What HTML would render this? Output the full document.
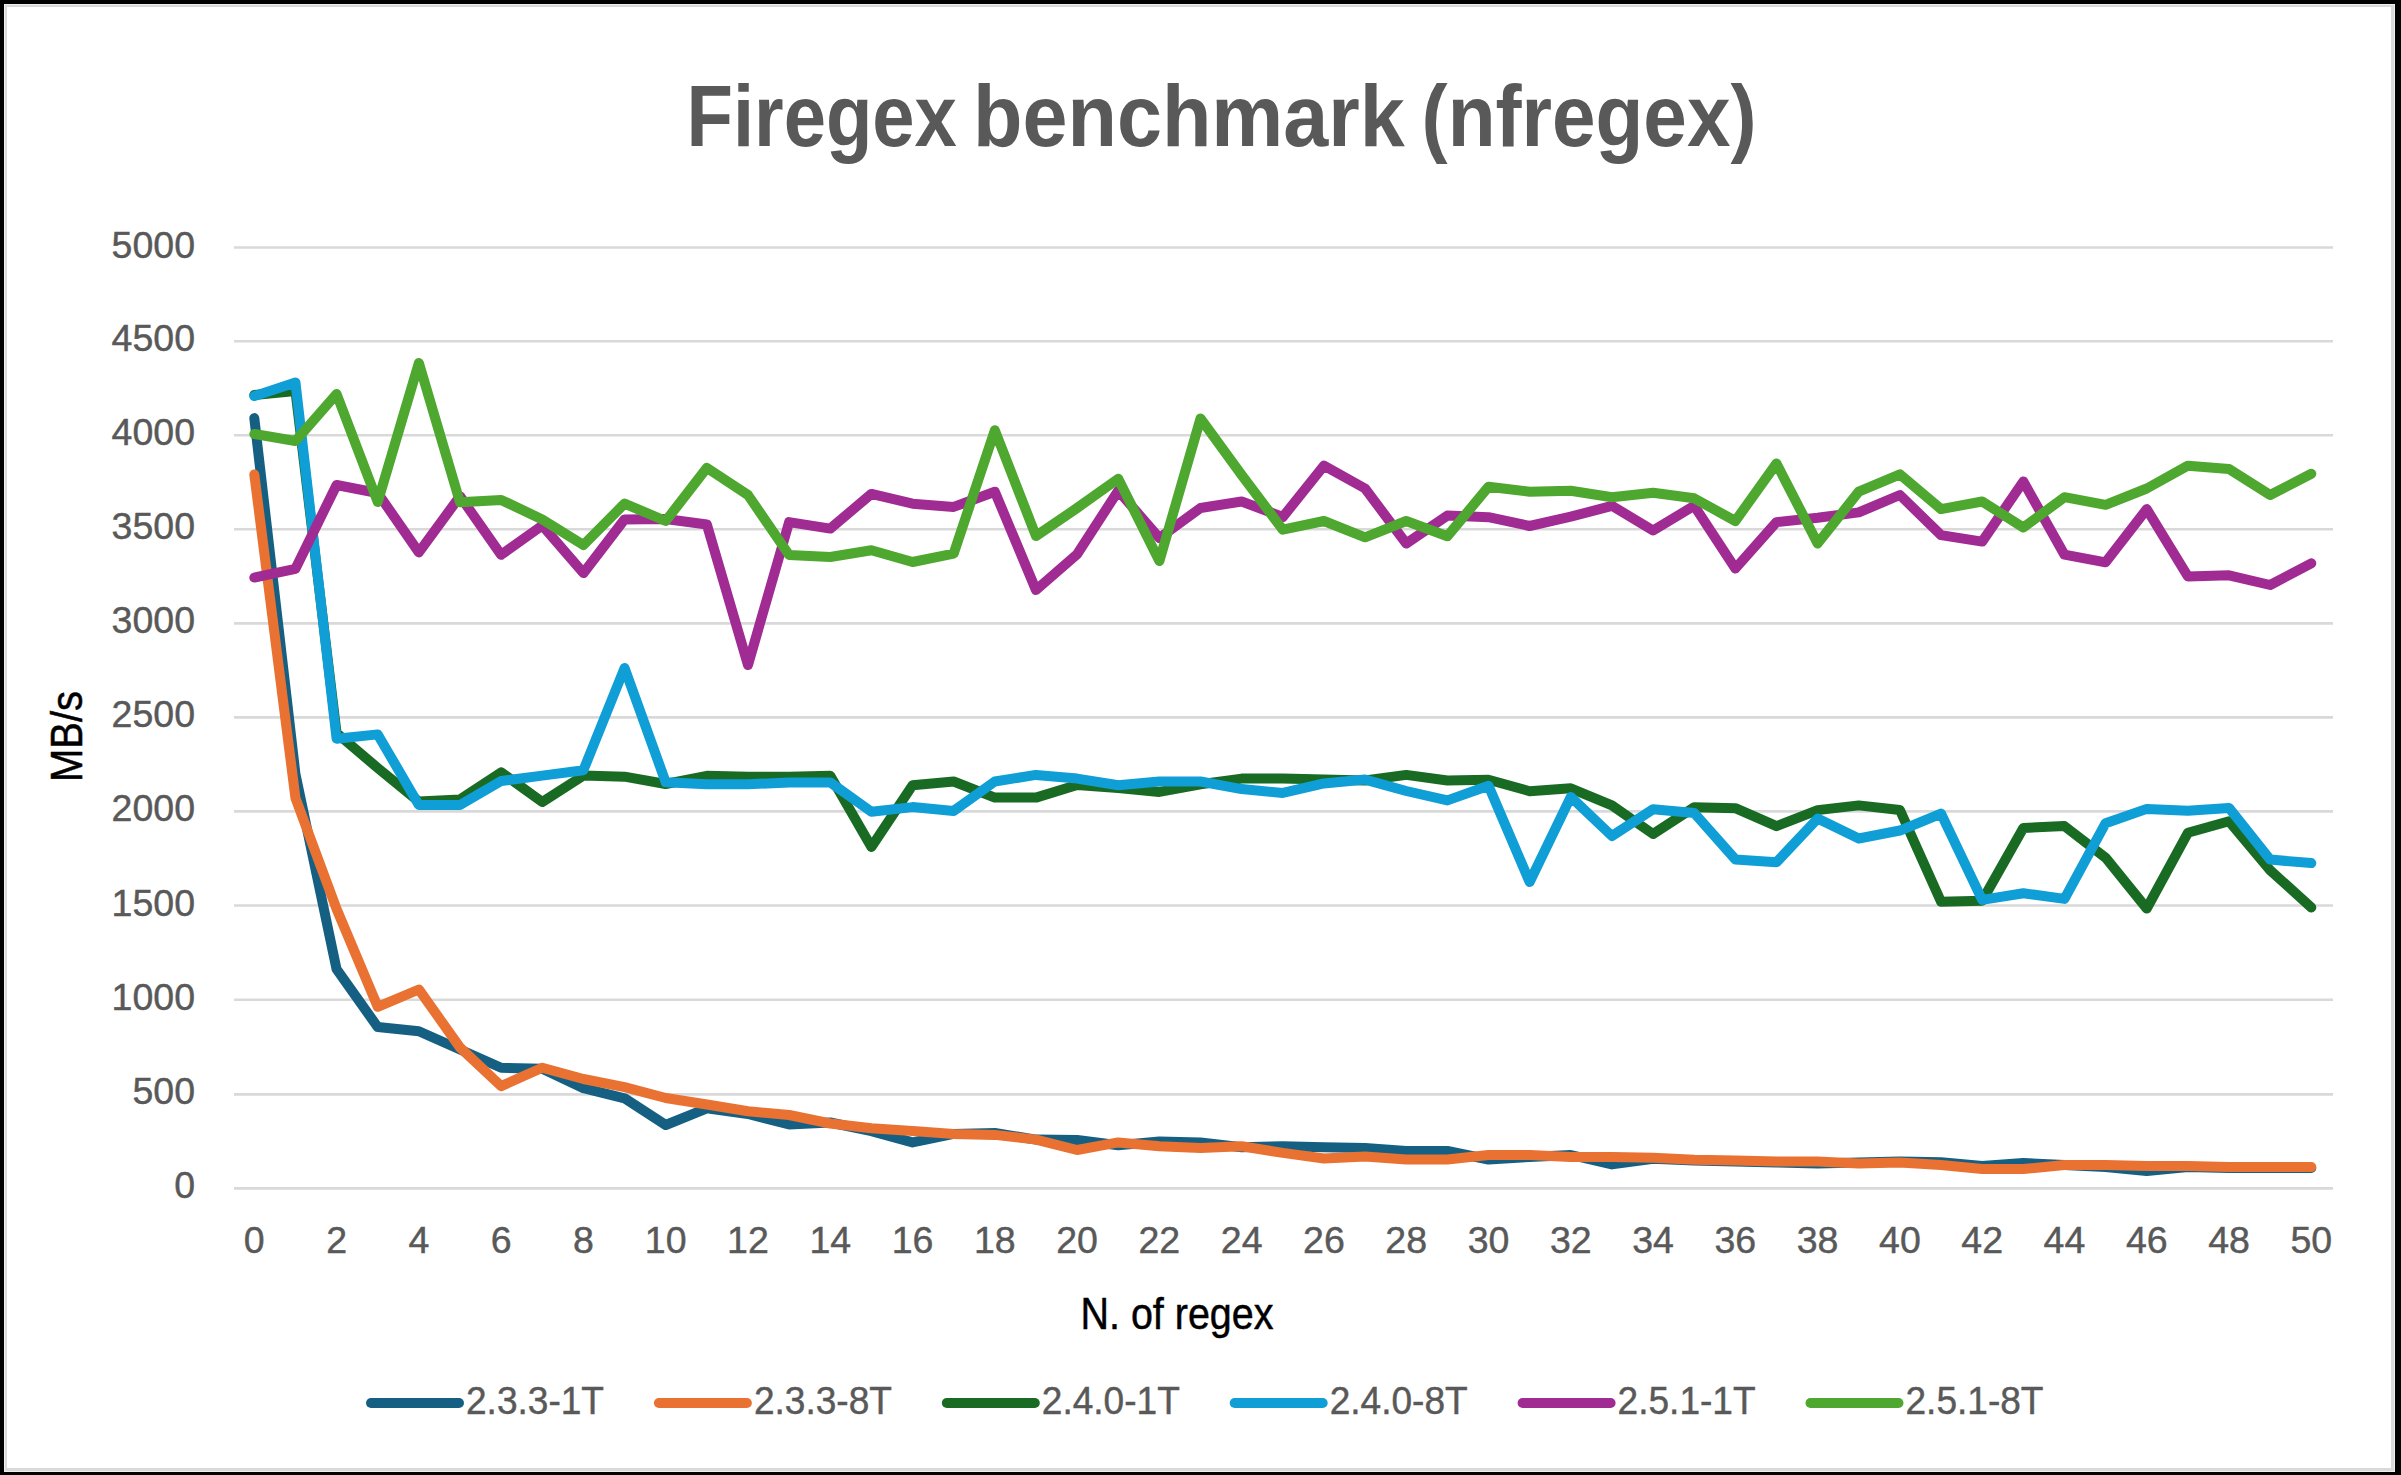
<!DOCTYPE html><html><head><meta charset="utf-8"><style>
html,body{margin:0;padding:0;background:#000;}svg{display:block;}
text{font-family:"Liberation Sans",sans-serif;}
</style></head><body>
<svg width="2401" height="1475" viewBox="0 0 2401 1475">
<rect x="0" y="0" width="2401" height="1475" fill="#000"/>
<rect x="4" y="4" width="2391" height="1468" fill="#eeeeee"/>
<rect x="5" y="5" width="2389" height="1466" fill="#d9d9d9"/>
<rect x="7" y="7" width="2384" height="1461" fill="#ffffff"/>
<text x="686.60" y="145.6" font-size="86.5" font-weight="bold" fill="#595959" textLength="270.30" lengthAdjust="spacingAndGlyphs">Firegex</text>
<text x="973.10" y="145.6" font-size="86.5" font-weight="bold" fill="#595959" textLength="431.60" lengthAdjust="spacingAndGlyphs">benchmark</text>
<text x="1421.60" y="145.6" font-size="86.5" font-weight="bold" fill="#595959" textLength="334.90" lengthAdjust="spacingAndGlyphs">(nfregex)</text>
<line x1="234" y1="1188.40" x2="2333" y2="1188.40" stroke="#d9d9d9" stroke-width="2.6"/>
<line x1="234" y1="1094.40" x2="2333" y2="1094.40" stroke="#d9d9d9" stroke-width="2.6"/>
<line x1="234" y1="999.70" x2="2333" y2="999.70" stroke="#d9d9d9" stroke-width="2.6"/>
<line x1="234" y1="905.50" x2="2333" y2="905.50" stroke="#d9d9d9" stroke-width="2.6"/>
<line x1="234" y1="811.40" x2="2333" y2="811.40" stroke="#d9d9d9" stroke-width="2.6"/>
<line x1="234" y1="717.40" x2="2333" y2="717.40" stroke="#d9d9d9" stroke-width="2.6"/>
<line x1="234" y1="623.40" x2="2333" y2="623.40" stroke="#d9d9d9" stroke-width="2.6"/>
<line x1="234" y1="529.30" x2="2333" y2="529.30" stroke="#d9d9d9" stroke-width="2.6"/>
<line x1="234" y1="435.30" x2="2333" y2="435.30" stroke="#d9d9d9" stroke-width="2.6"/>
<line x1="234" y1="341.30" x2="2333" y2="341.30" stroke="#d9d9d9" stroke-width="2.6"/>
<line x1="234" y1="247.50" x2="2333" y2="247.50" stroke="#d9d9d9" stroke-width="2.6"/>
<text x="195" y="1198.40" font-size="37.5" fill="#595959" stroke="#595959" stroke-width="0.45" text-anchor="end">0</text>
<text x="195" y="1104.40" font-size="37.5" fill="#595959" stroke="#595959" stroke-width="0.45" text-anchor="end">500</text>
<text x="195" y="1009.70" font-size="37.5" fill="#595959" stroke="#595959" stroke-width="0.45" text-anchor="end">1000</text>
<text x="195" y="915.50" font-size="37.5" fill="#595959" stroke="#595959" stroke-width="0.45" text-anchor="end">1500</text>
<text x="195" y="821.40" font-size="37.5" fill="#595959" stroke="#595959" stroke-width="0.45" text-anchor="end">2000</text>
<text x="195" y="727.40" font-size="37.5" fill="#595959" stroke="#595959" stroke-width="0.45" text-anchor="end">2500</text>
<text x="195" y="633.40" font-size="37.5" fill="#595959" stroke="#595959" stroke-width="0.45" text-anchor="end">3000</text>
<text x="195" y="539.30" font-size="37.5" fill="#595959" stroke="#595959" stroke-width="0.45" text-anchor="end">3500</text>
<text x="195" y="445.30" font-size="37.5" fill="#595959" stroke="#595959" stroke-width="0.45" text-anchor="end">4000</text>
<text x="195" y="351.30" font-size="37.5" fill="#595959" stroke="#595959" stroke-width="0.45" text-anchor="end">4500</text>
<text x="195" y="257.50" font-size="37.5" fill="#595959" stroke="#595959" stroke-width="0.45" text-anchor="end">5000</text>
<text x="254.30" y="1252.5" font-size="37.5" fill="#595959" stroke="#595959" stroke-width="0.45" text-anchor="middle">0</text>
<text x="336.58" y="1252.5" font-size="37.5" fill="#595959" stroke="#595959" stroke-width="0.45" text-anchor="middle">2</text>
<text x="418.86" y="1252.5" font-size="37.5" fill="#595959" stroke="#595959" stroke-width="0.45" text-anchor="middle">4</text>
<text x="501.14" y="1252.5" font-size="37.5" fill="#595959" stroke="#595959" stroke-width="0.45" text-anchor="middle">6</text>
<text x="583.42" y="1252.5" font-size="37.5" fill="#595959" stroke="#595959" stroke-width="0.45" text-anchor="middle">8</text>
<text x="665.70" y="1252.5" font-size="37.5" fill="#595959" stroke="#595959" stroke-width="0.45" text-anchor="middle">10</text>
<text x="747.98" y="1252.5" font-size="37.5" fill="#595959" stroke="#595959" stroke-width="0.45" text-anchor="middle">12</text>
<text x="830.26" y="1252.5" font-size="37.5" fill="#595959" stroke="#595959" stroke-width="0.45" text-anchor="middle">14</text>
<text x="912.54" y="1252.5" font-size="37.5" fill="#595959" stroke="#595959" stroke-width="0.45" text-anchor="middle">16</text>
<text x="994.82" y="1252.5" font-size="37.5" fill="#595959" stroke="#595959" stroke-width="0.45" text-anchor="middle">18</text>
<text x="1077.10" y="1252.5" font-size="37.5" fill="#595959" stroke="#595959" stroke-width="0.45" text-anchor="middle">20</text>
<text x="1159.38" y="1252.5" font-size="37.5" fill="#595959" stroke="#595959" stroke-width="0.45" text-anchor="middle">22</text>
<text x="1241.66" y="1252.5" font-size="37.5" fill="#595959" stroke="#595959" stroke-width="0.45" text-anchor="middle">24</text>
<text x="1323.94" y="1252.5" font-size="37.5" fill="#595959" stroke="#595959" stroke-width="0.45" text-anchor="middle">26</text>
<text x="1406.22" y="1252.5" font-size="37.5" fill="#595959" stroke="#595959" stroke-width="0.45" text-anchor="middle">28</text>
<text x="1488.50" y="1252.5" font-size="37.5" fill="#595959" stroke="#595959" stroke-width="0.45" text-anchor="middle">30</text>
<text x="1570.78" y="1252.5" font-size="37.5" fill="#595959" stroke="#595959" stroke-width="0.45" text-anchor="middle">32</text>
<text x="1653.06" y="1252.5" font-size="37.5" fill="#595959" stroke="#595959" stroke-width="0.45" text-anchor="middle">34</text>
<text x="1735.34" y="1252.5" font-size="37.5" fill="#595959" stroke="#595959" stroke-width="0.45" text-anchor="middle">36</text>
<text x="1817.62" y="1252.5" font-size="37.5" fill="#595959" stroke="#595959" stroke-width="0.45" text-anchor="middle">38</text>
<text x="1899.90" y="1252.5" font-size="37.5" fill="#595959" stroke="#595959" stroke-width="0.45" text-anchor="middle">40</text>
<text x="1982.18" y="1252.5" font-size="37.5" fill="#595959" stroke="#595959" stroke-width="0.45" text-anchor="middle">42</text>
<text x="2064.46" y="1252.5" font-size="37.5" fill="#595959" stroke="#595959" stroke-width="0.45" text-anchor="middle">44</text>
<text x="2146.74" y="1252.5" font-size="37.5" fill="#595959" stroke="#595959" stroke-width="0.45" text-anchor="middle">46</text>
<text x="2229.02" y="1252.5" font-size="37.5" fill="#595959" stroke="#595959" stroke-width="0.45" text-anchor="middle">48</text>
<text x="2311.30" y="1252.5" font-size="37.5" fill="#595959" stroke="#595959" stroke-width="0.45" text-anchor="middle">50</text>
<text x="1080.5" y="1329" font-size="45" fill="#000" stroke="#000" stroke-width="0.5" textLength="193" lengthAdjust="spacingAndGlyphs">N. of regex</text>
<text transform="translate(82,782) rotate(-90)" x="0" y="0" font-size="43.5" fill="#000" stroke="#000" stroke-width="0.5" textLength="91" lengthAdjust="spacingAndGlyphs">MB/s</text>
<polyline points="254.30,418.10 295.44,774.00 336.58,969.20 377.72,1027.10 418.86,1031.20 460.00,1049.50 501.14,1067.80 542.28,1068.80 583.42,1088.10 624.56,1098.30 665.70,1125.00 706.84,1108.30 747.98,1114.00 789.12,1124.40 830.26,1122.50 871.40,1131.10 912.54,1142.40 953.68,1133.90 994.82,1133.00 1035.96,1139.60 1077.10,1140.00 1118.24,1145.30 1159.38,1141.50 1200.52,1142.40 1241.66,1147.20 1282.80,1146.20 1323.94,1147.20 1365.08,1148.10 1406.22,1151.00 1447.36,1151.00 1488.50,1159.50 1529.64,1156.90 1570.78,1155.00 1611.92,1164.40 1653.06,1158.70 1694.20,1160.60 1735.34,1161.60 1776.48,1162.50 1817.62,1163.50 1858.76,1162.50 1899.90,1161.50 1941.04,1162.30 1982.18,1166.10 2023.32,1163.00 2064.46,1165.10 2105.60,1167.10 2146.74,1171.00 2187.88,1167.10 2229.02,1168.00 2270.16,1168.00 2311.30,1168.00" fill="none" stroke="#156082" stroke-width="10" stroke-linejoin="round" stroke-linecap="round"/>
<polyline points="254.30,474.50 295.44,798.00 336.58,909.00 377.72,1006.80 418.86,989.50 460.00,1047.50 501.14,1086.10 542.28,1067.80 583.42,1079.00 624.56,1087.10 665.70,1098.00 706.84,1104.50 747.98,1111.20 789.12,1115.00 830.26,1123.50 871.40,1128.20 912.54,1131.10 953.68,1133.90 994.82,1134.90 1035.96,1139.60 1077.10,1150.00 1118.24,1142.40 1159.38,1146.20 1200.52,1148.10 1241.66,1146.20 1282.80,1152.90 1323.94,1158.50 1365.08,1156.60 1406.22,1159.50 1447.36,1159.50 1488.50,1155.00 1529.64,1155.00 1570.78,1156.90 1611.92,1156.90 1653.06,1157.80 1694.20,1159.70 1735.34,1160.60 1776.48,1161.60 1817.62,1161.60 1858.76,1163.50 1899.90,1162.40 1941.04,1165.10 1982.18,1169.00 2023.32,1169.00 2064.46,1165.10 2105.60,1165.10 2146.74,1166.10 2187.88,1166.10 2229.02,1167.10 2270.16,1167.10 2311.30,1167.10" fill="none" stroke="#E97132" stroke-width="10" stroke-linejoin="round" stroke-linecap="round"/>
<polyline points="254.30,395.00 295.44,391.00 336.58,733.00 377.72,768.00 418.86,801.60 460.00,799.50 501.14,772.30 542.28,802.00 583.42,775.60 624.56,776.70 665.70,784.00 706.84,775.80 747.98,776.70 789.12,776.70 830.26,775.80 871.40,847.00 912.54,785.30 953.68,781.50 994.82,797.60 1035.96,797.60 1077.10,785.00 1118.24,788.00 1159.38,791.90 1200.52,784.30 1241.66,778.60 1282.80,778.60 1323.94,779.60 1365.08,780.50 1406.22,774.90 1447.36,780.50 1488.50,779.70 1529.64,791.20 1570.78,788.30 1611.92,805.40 1653.06,834.00 1694.20,807.30 1735.34,808.20 1776.48,826.20 1817.62,810.10 1858.76,805.40 1899.90,810.00 1941.04,901.80 1982.18,900.80 2023.32,828.00 2064.46,826.10 2105.60,857.70 2146.74,908.50 2187.88,832.80 2229.02,821.30 2270.16,870.20 2311.30,907.50" fill="none" stroke="#196B24" stroke-width="10" stroke-linejoin="round" stroke-linecap="round"/>
<polyline points="254.30,396.10 295.44,382.40 336.58,738.70 377.72,734.40 418.86,805.00 460.00,805.00 501.14,781.00 542.28,775.60 583.42,770.20 624.56,668.00 665.70,782.20 706.84,784.30 747.98,784.30 789.12,782.40 830.26,782.40 871.40,811.80 912.54,807.10 953.68,810.90 994.82,781.50 1035.96,774.90 1077.10,778.60 1118.24,785.30 1159.38,781.50 1200.52,781.50 1241.66,789.10 1282.80,792.90 1323.94,783.40 1365.08,779.60 1406.22,791.00 1447.36,800.40 1488.50,785.80 1529.64,882.00 1570.78,796.90 1611.92,836.00 1653.06,809.20 1694.20,813.00 1735.34,859.40 1776.48,862.20 1817.62,818.60 1858.76,838.50 1899.90,830.50 1941.04,813.60 1982.18,899.90 2023.32,893.20 2064.46,898.90 2105.60,823.20 2146.74,808.90 2187.88,810.80 2229.02,807.90 2270.16,859.60 2311.30,863.10" fill="none" stroke="#0F9ED5" stroke-width="10" stroke-linejoin="round" stroke-linecap="round"/>
<polyline points="254.30,577.60 295.44,568.80 336.58,485.00 377.72,493.00 418.86,552.40 460.00,496.20 501.14,554.80 542.28,525.50 583.42,573.10 624.56,519.40 665.70,519.00 706.84,524.50 747.98,665.00 789.12,522.10 830.26,528.60 871.40,493.90 912.54,503.70 953.68,506.90 994.82,491.70 1035.96,590.00 1077.10,554.20 1118.24,490.70 1159.38,538.00 1200.52,508.00 1241.66,501.50 1282.80,517.00 1323.94,465.70 1365.08,488.50 1406.22,543.50 1447.36,515.60 1488.50,517.20 1529.64,526.00 1570.78,516.70 1611.92,505.80 1653.06,530.50 1694.20,505.80 1735.34,568.50 1776.48,522.10 1817.62,517.80 1858.76,512.40 1899.90,495.00 1941.04,535.10 1982.18,541.60 2023.32,481.50 2064.46,554.70 2105.60,562.30 2146.74,509.10 2187.88,576.40 2229.02,575.30 2270.16,585.00 2311.30,563.30" fill="none" stroke="#A02B93" stroke-width="10" stroke-linejoin="round" stroke-linecap="round"/>
<polyline points="254.30,434.00 295.44,441.00 336.58,394.00 377.72,502.00 418.86,363.00 460.00,502.30 501.14,499.90 542.28,519.40 583.42,545.00 624.56,503.60 665.70,521.00 706.84,467.90 747.98,495.00 789.12,555.00 830.26,557.00 871.40,550.30 912.54,562.00 953.68,553.60 994.82,430.30 1035.96,536.00 1077.10,508.00 1118.24,478.70 1159.38,561.00 1200.52,418.50 1241.66,475.00 1282.80,529.70 1323.94,521.00 1365.08,537.30 1406.22,521.00 1447.36,536.20 1488.50,486.80 1529.64,491.70 1570.78,490.70 1611.92,497.20 1653.06,492.80 1694.20,498.30 1735.34,521.00 1776.48,463.50 1817.62,543.50 1858.76,491.70 1899.90,474.40 1941.04,509.10 1982.18,501.50 2023.32,527.50 2064.46,497.20 2105.60,504.80 2146.74,488.50 2187.88,465.70 2229.02,469.00 2270.16,495.00 2311.30,473.70" fill="none" stroke="#4EA72E" stroke-width="10" stroke-linejoin="round" stroke-linecap="round"/>
<line x1="371.00" y1="1403" x2="459.00" y2="1403" stroke="#156082" stroke-width="10" stroke-linecap="round"/>
<text x="466.00" y="1414" font-size="38.5" fill="#595959" stroke="#595959" stroke-width="0.45" textLength="138" lengthAdjust="spacingAndGlyphs">2.3.3-1T</text>
<line x1="658.90" y1="1403" x2="746.90" y2="1403" stroke="#E97132" stroke-width="10" stroke-linecap="round"/>
<text x="753.90" y="1414" font-size="38.5" fill="#595959" stroke="#595959" stroke-width="0.45" textLength="138" lengthAdjust="spacingAndGlyphs">2.3.3-8T</text>
<line x1="946.80" y1="1403" x2="1034.80" y2="1403" stroke="#196B24" stroke-width="10" stroke-linecap="round"/>
<text x="1041.80" y="1414" font-size="38.5" fill="#595959" stroke="#595959" stroke-width="0.45" textLength="138" lengthAdjust="spacingAndGlyphs">2.4.0-1T</text>
<line x1="1234.70" y1="1403" x2="1322.70" y2="1403" stroke="#0F9ED5" stroke-width="10" stroke-linecap="round"/>
<text x="1329.70" y="1414" font-size="38.5" fill="#595959" stroke="#595959" stroke-width="0.45" textLength="138" lengthAdjust="spacingAndGlyphs">2.4.0-8T</text>
<line x1="1522.60" y1="1403" x2="1610.60" y2="1403" stroke="#A02B93" stroke-width="10" stroke-linecap="round"/>
<text x="1617.60" y="1414" font-size="38.5" fill="#595959" stroke="#595959" stroke-width="0.45" textLength="138" lengthAdjust="spacingAndGlyphs">2.5.1-1T</text>
<line x1="1810.50" y1="1403" x2="1898.50" y2="1403" stroke="#4EA72E" stroke-width="10" stroke-linecap="round"/>
<text x="1905.50" y="1414" font-size="38.5" fill="#595959" stroke="#595959" stroke-width="0.45" textLength="138" lengthAdjust="spacingAndGlyphs">2.5.1-8T</text>
</svg></body></html>
